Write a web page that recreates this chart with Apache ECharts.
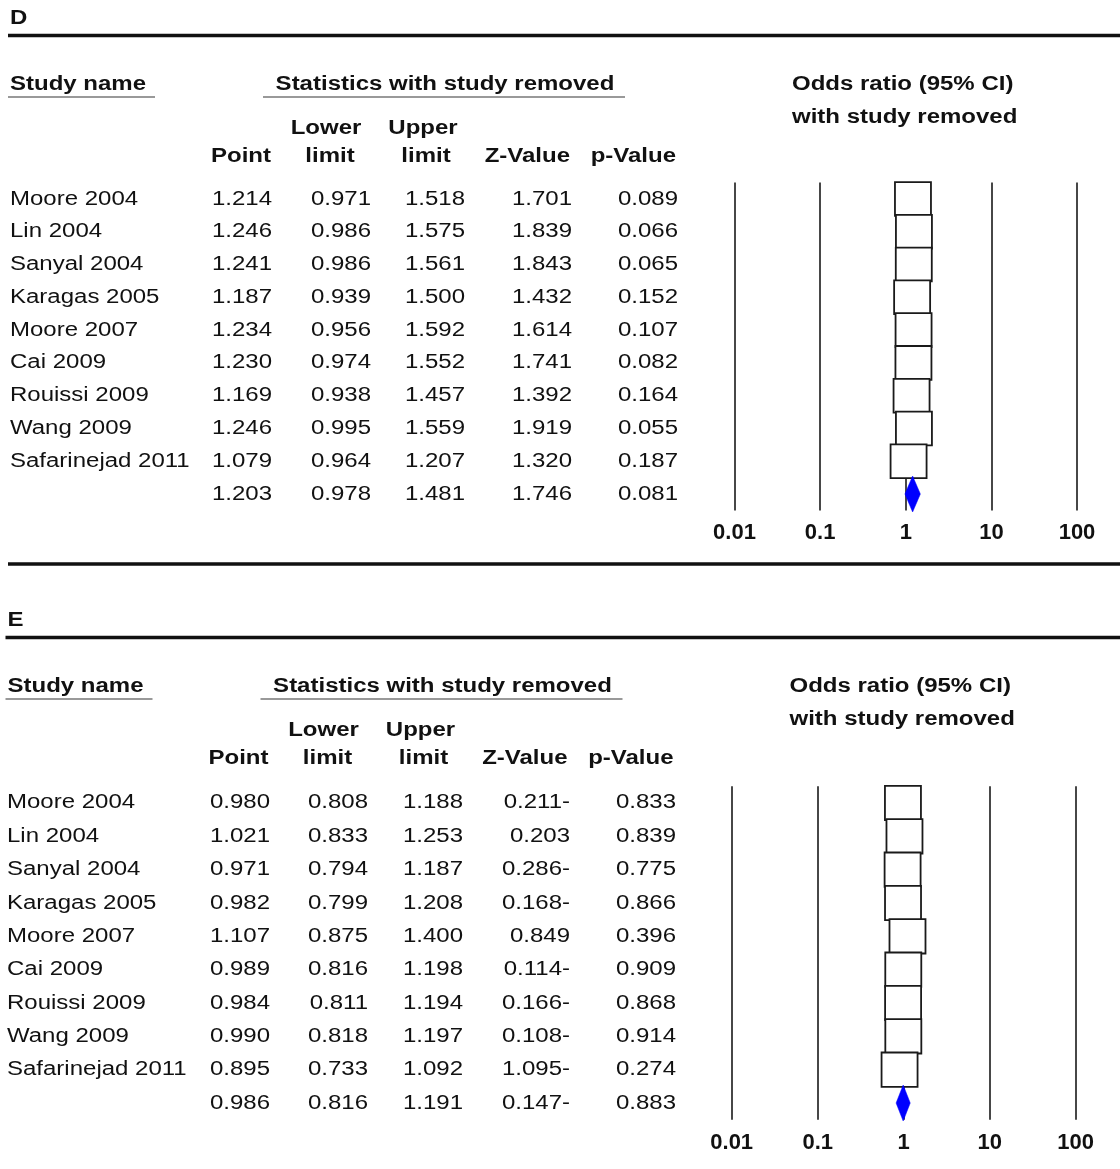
<!DOCTYPE html>
<html><head><meta charset="utf-8">
<script src="https://cdn.jsdelivr.net/npm/echarts@6/dist/echarts.min.js"></script>
<style>html,body{margin:0;padding:0;background:#fff}#c{width:1120px;height:1169px}</style>
</head><body><div id="c"></div>
<script>
// ---------- data ----------
const studyNames = ['Moore 2004','Lin 2004','Sanyal 2004','Karagas 2005','Moore 2007','Cai 2009','Rouissi 2009','Wang 2009','Safarinejad 2011',''];
// Panel D
const pointD = [1.214,1.246,1.241,1.187,1.234,1.230,1.169,1.246,1.079,1.203];
const lowerD = [0.971,0.986,0.986,0.939,0.956,0.974,0.938,0.995,0.964,0.978];
const upperD = [1.518,1.575,1.561,1.500,1.592,1.552,1.457,1.559,1.207,1.481];
const zD = ['1.701','1.839','1.843','1.432','1.614','1.741','1.392','1.919','1.320','1.746'];
const pD = ['0.089','0.066','0.065','0.152','0.107','0.082','0.164','0.055','0.187','0.081'];
// Panel E
const pointE = [0.980,1.021,0.971,0.982,1.107,0.989,0.984,0.990,0.895,0.986];
const lowerE = [0.808,0.833,0.794,0.799,0.875,0.816,0.811,0.818,0.733,0.816];
const upperE = [1.188,1.253,1.187,1.208,1.400,1.198,1.194,1.197,1.092,1.191];
const zE = ['0.211-','0.203','0.286-','0.168-','0.849','0.114-','0.166-','0.108-','1.095-','0.147-'];
const pE = ['0.833','0.839','0.775','0.866','0.396','0.909','0.868','0.914','0.274','0.883'];
// axis ticks
const xTickValues = [0.01, 0.1, 1, 10, 100];
const xTickLabels = ['0.01', '0.1', '1', '10', '100'];
const panelLabels = ['D', 'E'];

// ---------- layout ----------
const FONT = '"Liberation Sans", Arial, Helvetica, sans-serif';
const SX = 1.2;
const TXT = '#111';
const panels = [
  {label: panelLabels[0], dx: 0, dy: 0, left: 734.5, width: 342.5, top: 182.6, height: 327.8,
   nameX: 10, cols: [272, 371, 465, 572, 678], point: pointD, lower: lowerD, upper: upperD, z: zD, p: pD, bottomLine: true},
  {label: panelLabels[1], dx: -2.5, dy: 602, left: 731.7, width: 344, top: 786.3, height: 333.4,
   nameX: 7, cols: [270, 368, 463, 570, 676], point: pointE, lower: lowerE, upper: upperE, z: zE, p: pE, bottomLine: false}
];
const lastIdx = studyNames.length - 1;

function txt(text, x, y, align, bold, size) {
  return {type: 'text', x: x, y: y, scaleX: SX, silent: true,
    style: {text: text, fill: TXT, fontFamily: FONT, fontSize: size || 20,
      fontWeight: bold ? 'bold' : 'normal', align: align, verticalAlign: 'middle'}};
}
function hline(x1, x2, y, color, w) {
  return {type: 'line', silent: true, shape: {x1: x1, y1: y, x2: x2, y2: y}, style: {stroke: color, lineWidth: w}};
}

const grids = [], xAxes = [], yAxes = [], series = [], graphics = [];
panels.forEach(function (P, k) {
  const dx = P.dx, dy = P.dy;
  graphics.push(txt(P.label, 10 + dx, 18 + dy, 'left', true));
  graphics.push(hline(8 + dx, 1120, 35.5 + dy, '#111', 3.5));
  graphics.push(txt('Study name', 10 + dx, 84 + dy, 'left', true));
  graphics.push(hline(8 + dx, 155 + dx, 97 + dy, '#999', 2));
  graphics.push(txt('Statistics with study removed', 445 + dx, 84 + dy, 'center', true));
  graphics.push(hline(263 + dx, 625 + dx, 97 + dy, '#999', 2));
  graphics.push(txt('Odds ratio (95% CI)', 792 + dx, 84 + dy, 'left', true));
  graphics.push(txt('with study removed', 792 + dx, 117 + dy, 'left', true));
  graphics.push(txt('Lower', 326 + dx, 128 + dy, 'center', true));
  graphics.push(txt('Upper', 423 + dx, 128 + dy, 'center', true));
  graphics.push(txt('Point', 271 + dx, 156 + dy, 'right', true));
  graphics.push(txt('limit', 330 + dx, 156 + dy, 'center', true));
  graphics.push(txt('limit', 426 + dx, 156 + dy, 'center', true));
  graphics.push(txt('Z-Value', 570 + dx, 156 + dy, 'right', true));
  graphics.push(txt('p-Value', 676 + dx, 156 + dy, 'right', true));
  if (P.bottomLine) graphics.push(hline(8, 1120, 564, '#111', 3.5));

  grids.push({left: P.left, top: P.top, width: P.width, height: P.height});
  xAxes.push({
    type: 'log', logBase: 10, gridIndex: k, min: xTickValues[0], max: xTickValues[xTickValues.length - 1],
    axisLine: {show: false}, axisTick: {show: false},
    splitLine: {show: true, lineStyle: {color: '#333', width: 1.8}},
    axisLabel: {
      margin: 12, fontSize: 22, fontWeight: 'bold', fontFamily: FONT, color: '#111',
      showMinLabel: true, showMaxLabel: true,
      formatter: function (v) {
        const j = xTickValues.findIndex(function (t) { return Math.abs(Math.log10(t) - Math.log10(v)) < 1e-6; });
        return j >= 0 ? xTickLabels[j] : '';
      }
    }
  });
  yAxes.push({type: 'category', gridIndex: k, inverse: true, show: false,
    data: studyNames.map(function (s, i) { return String(i); })});

  series.push({
    type: 'custom', xAxisIndex: k, yAxisIndex: k, silent: true, clip: false, z: 5,
    data: studyNames.map(function (s, i) { return [1, i]; }),
    renderItem: function (params, api) {
      const i = api.value(1);
      const y = api.coord([1, i])[1];
      const vals = [P.point[i].toFixed(3), P.lower[i].toFixed(3), P.upper[i].toFixed(3), P.z[i], P.p[i]];
      const ch = [txt(studyNames[i], P.nameX, y, 'left', false)];
      vals.forEach(function (v, c) { ch.push(txt(v, P.cols[c], y, 'right', false)); });
      return {type: 'group', children: ch};
    }
  });
  series.push({
    type: 'custom', xAxisIndex: k, yAxisIndex: k, silent: true, clip: false, z: 3,
    data: P.point.map(function (v, i) { return [v, i, P.lower[i], P.upper[i]]; }),
    renderItem: function (params, api) {
      const i = api.value(1);
      const c = api.coord([api.value(0), i]);
      const lo = api.coord([api.value(2), i]);
      const hi = api.coord([api.value(3), i]);
      const band = api.size([1, 1])[1];
      if (i === lastIdx) {
        return {type: 'polygon', shape: {points: [[lo[0], c[1]], [c[0], c[1] - 18], [hi[0], c[1]], [c[0], c[1] + 18]]},
          style: {fill: '#0000ff', stroke: '#0000ff', lineWidth: 0.5}};
      }
      return {type: 'group', children: [
        {type: 'line', shape: {x1: lo[0], y1: c[1], x2: hi[0], y2: c[1]}, style: {stroke: '#222', lineWidth: 1.5}},
        {type: 'rect', shape: {x: c[0] - 18, y: c[1] - band / 2 - 0.5, width: 36, height: band + 1},
          style: {fill: '#fff', stroke: '#1a1a1a', lineWidth: 1.8}}
      ]};
    }
  });
});

const chart = echarts.init(document.getElementById('c'), null, {renderer: 'canvas'});
chart.setOption({
  animation: false,
  backgroundColor: '#fff',
  grid: grids, xAxis: xAxes, yAxis: yAxes, series: series,
  graphic: {elements: graphics}
});
</script>
</body></html>
